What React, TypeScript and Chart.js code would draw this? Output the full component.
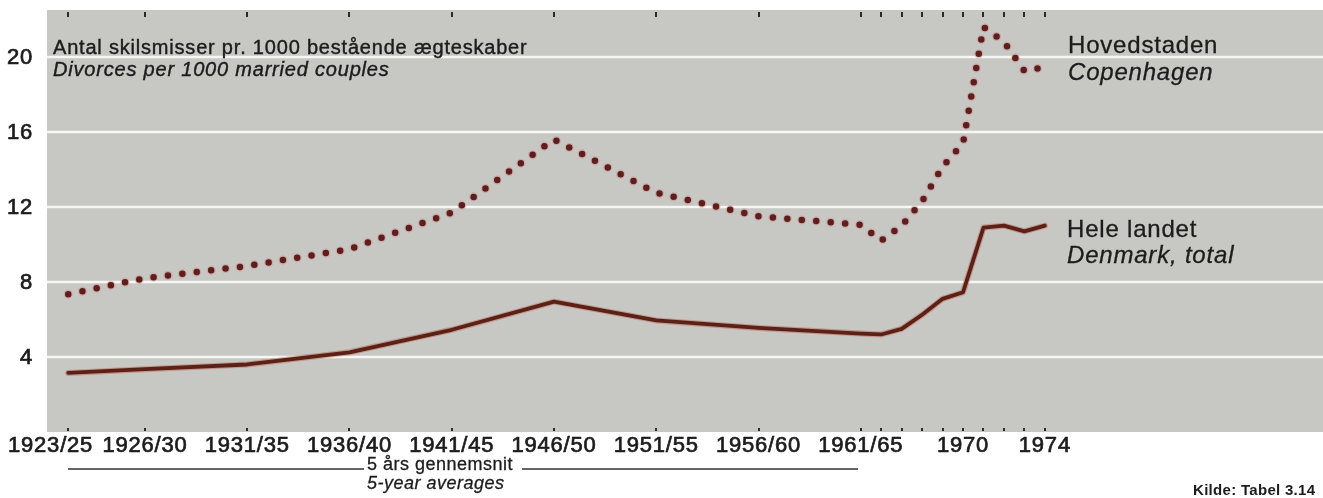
import React, { useEffect, useRef } from "react";
import { Chart, registerables } from "chart.js";

Chart.register(...registerables);

// Category axis: 5-year averages, then single years
const periodLabels = [
  "1923/25", "1926/30", "1931/35", "1936/40", "1941/45", "1946/50", "1951/55", "1956/60", "1961/65",
  "1966", "1967", "1968", "1969", "1970", "1971", "1972", "1973", "1974",
];
// Axis position of each period in year-widths (a 5-year period takes 5 units, a year 1 unit)
const axisSlots = [0.25, 4, 9, 14, 19, 24, 29, 34, 39, 40, 41, 42, 43, 44, 45, 46, 47, 48];
const shownLabels = [
  "1923/25", "1926/30", "1931/35", "1936/40", "1941/45", "1946/50", "1951/55", "1956/60", "1961/65", "1970", "1974",
];

// Divorces per 1000 married couples
const copenhagen = [7.35, 8.2, 8.85, 9.75, 11.7, 15.6, 12.75, 11.5, 11.05, 10.2, 11.0, 12.3, 14.15, 15.4, 21.6, 20.8, 19.25, 19.45];
const denmarkTotal = [3.15, 3.35, 3.6, 4.25, 5.45, 6.95, 5.95, 5.55, 5.25, 5.2, 5.5, 6.25, 7.1, 7.45, 10.9, 11.0, 10.7, 11.0];

const yTicks = [4, 8, 12, 16, 20];
const yMax = 22.5;

const FONT = "'Liberation Sans', Arial, Helvetica, sans-serif";
const INK = "#1c1c1c";

export default function App() {
  const ref = useRef<HTMLCanvasElement>(null);

  useEffect(() => {
    document.body.style.margin = "0";
    const canvas = ref.current!;

    const decor = {
      id: "decor",
      beforeDatasetsDraw(chart: any) {
        const { ctx, chartArea: a, scales } = chart;
        const x = scales.x, y = scales.y;
        ctx.save();
        ctx.fillStyle = "#c7c7c4";
        ctx.fillRect(a.left, a.top, a.right - a.left, a.bottom - a.top);
        ctx.strokeStyle = "#f6f6f4";
        ctx.lineWidth = 2.5;
        yTicks.forEach((v) => {
          const py = Math.round(y.getPixelForValue(v));
          ctx.beginPath();
          ctx.moveTo(a.left, py);
          ctx.lineTo(a.right, py);
          ctx.stroke();
        });
        ctx.fillStyle = "#2a2a2a";
        axisSlots.forEach((s) => {
          const px = Math.round(x.getPixelForValue(s));
          ctx.fillRect(px - 1, a.top + 2, 2, 5);
          ctx.fillRect(px - 1, a.bottom - 4, 2, 3);
        });
        ctx.restore();
      },
      afterDraw(chart: any) {
        const { ctx, scales } = chart;
        const x = scales.x, y = scales.y;
        ctx.save();
        ctx.fillStyle = INK;
        ctx.strokeStyle = INK;
        const txt = (s: string, px: number, py: number, font: string, align: CanvasTextAlign = "left", bold = 0.5, spacing = "0.8px") => {
          ctx.font = font;
          (ctx as any).letterSpacing = spacing;
          ctx.textAlign = align;
          ctx.fillText(s, px, py);
          if (bold > 0) {
            ctx.lineWidth = bold;
            ctx.strokeText(s, px, py);
          }
        };
        // y tick labels
        ctx.textBaseline = "middle";
        yTicks.forEach((v) => {
          txt(String(v), 33, y.getPixelForValue(v) + 1, `22px ${FONT}`, "right", 0.7);
        });
        // x tick labels
        ctx.textBaseline = "alphabetic";
        periodLabels.forEach((lab, i) => {
          if (!shownLabels.includes(lab)) return;
          const px = x.getPixelForValue(axisSlots[i]);
          if (i === 0) txt(lab, 8, 452, `22px ${FONT}`, "left", 0.7);
          else txt(lab, px, 452, `22px ${FONT}`, "center", 0.7);
        });
        // title
        txt("Antal skilsmisser pr. 1000 bestående ægteskaber", 53, 54, `20px ${FONT}`, "left", 0.4);
        txt("Divorces per 1000 married couples", 53, 76, `italic 20px ${FONT}`, "left", 0.4);
        // series labels
        txt("Hovedstaden", 1068, 53, `24px ${FONT}`, "left", 0.3);
        txt("Copenhagen", 1068, 80, `italic 24px ${FONT}`, "left", 0.3);
        txt("Hele landet", 1067, 237, `24px ${FONT}`, "left", 0.3);
        txt("Denmark, total", 1067, 263, `italic 24px ${FONT}`, "left", 0.3);
        // 5-year averages note
        ctx.lineWidth = 1.5;
        ctx.strokeStyle = "#333";
        ctx.beginPath();
        ctx.moveTo(68, 469);
        ctx.lineTo(364, 469);
        ctx.moveTo(522, 469);
        ctx.lineTo(858, 469);
        ctx.stroke();
        ctx.strokeStyle = INK;
        txt("5 års gennemsnit", 367, 470, `18px ${FONT}`, "left", 0.3, "0.5px");
        txt("5-year averages", 367, 489, `italic 18px ${FONT}`, "left", 0.3, "0.5px");
        // source
        txt("Kilde: Tabel 3.14", 1193, 495, `bold 15px ${FONT}`, "left", 0, "0.3px");
        ctx.restore();
      },
    };

    const pts = (vals: number[]) => axisSlots.map((s, i) => ({ x: s, y: vals[i] }));

    // Chart.js draws the last dataset first, so halos are listed after their lines
    const chart = new Chart(canvas, {
      type: "line",
      data: {
        datasets: [
          {
            label: "Hovedstaden",
            data: pts(copenhagen),
            borderColor: "#5e1f1c",
            borderWidth: 6.5,
            borderDash: [0, 14.5],
            borderCapStyle: "round",
            pointRadius: 0,
            tension: 0,
          },
          {
            label: "Hele landet",
            data: pts(denmarkTotal),
            borderColor: "#5c2116",
            borderWidth: 3.8,
            borderJoinStyle: "round",
            borderCapStyle: "round",
            pointRadius: 0,
            tension: 0,
          },
          {
            label: "Hovedstaden halo",
            data: pts(copenhagen),
            borderColor: "rgba(205,140,140,0.5)",
            borderWidth: 9,
            borderDash: [0, 14.5],
            borderCapStyle: "round",
            pointRadius: 0,
            tension: 0,
          },
          {
            label: "Hele landet halo",
            data: pts(denmarkTotal),
            borderColor: "rgba(185,95,75,0.45)",
            borderWidth: 6,
            borderJoinStyle: "round",
            borderCapStyle: "round",
            pointRadius: 0,
            tension: 0,
          },
        ],
      },
      options: {
        responsive: false,
        animation: false,
        layout: { padding: { left: 47, right: 0, top: 10, bottom: 66 } },
        plugins: { legend: { display: false }, tooltip: { enabled: false } },
        scales: {
          x: { type: "linear", min: -0.79, max: 61.6, display: false },
          y: { min: 0, max: yMax, display: false },
        },
      },
      plugins: [decor],
    });
    return () => chart.destroy();
  }, []);

  return <canvas ref={ref} width={1323} height={498} style={{ display: "block" }} />;
}
